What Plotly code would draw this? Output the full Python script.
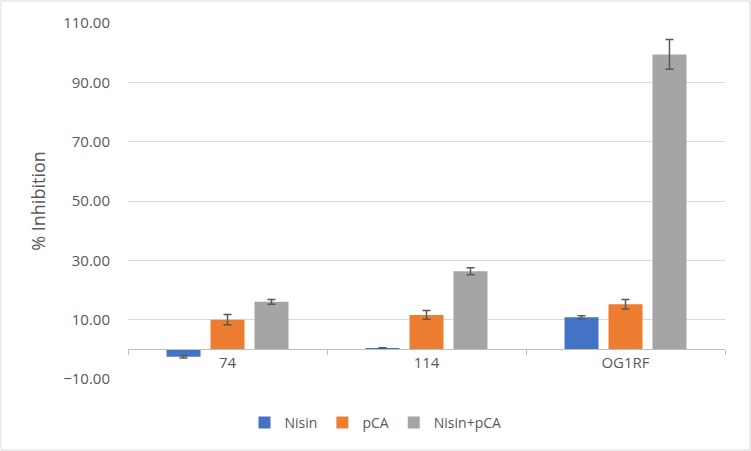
import plotly.graph_objects as go

categories = ["74", "114", "OG1RF"]
series_names = ["Nisin", "pCA", "Nisin+pCA"]
nisin = [-2.5, 0.3, 10.8]
nisin_err = [0.4, 0.2, 0.5]
pca = [10.0, 11.6, 15.2]
pca_err = [1.7, 1.5, 1.6]
combo = [16.0, 26.3, 99.4]
combo_err = [0.8, 1.2, 5.0]
colors = ["#4472C4", "#ED7D31", "#A5A5A5"]
y_min, y_max = -10, 110

FONT = "Open Sans"
GREY = "#595959"

fig = go.Figure()
for name, vals, errs, col in zip(series_names, [nisin, pca, combo], [nisin_err, pca_err, combo_err], colors):
    fig.add_trace(go.Bar(
        x=categories, y=vals, name=name, marker=dict(color=col, line=dict(width=0)),
        error_y=dict(type="data", array=errs, visible=True, color=GREY, thickness=1.5, width=4),
    ))

W, H = 751, 451
ml, mr, mt, mb = 128, 26, 23, 72
fig.update_layout(
    width=W, height=H,
    margin=dict(l=ml, r=mr, t=mt, b=mb, autoexpand=False),
    paper_bgcolor="white", plot_bgcolor="white",
    barmode="group", bargap=0.337, bargroupgap=0.227,
    font=dict(family=FONT, color=GREY, size=14),
    legend=dict(orientation="h", xref="container", yref="container", x=0.5, xanchor="center",
                y=1 - 423 / H, yanchor="middle", font=dict(size=14, color=GREY),
                itemwidth=30, traceorder="normal"),
    xaxis=dict(anchor="free", position=(0 - y_min) / (y_max - y_min), showline=True,
               linecolor="#BFBFBF", linewidth=1, ticks="outside", tickson="boundaries",
               ticklen=5, tickcolor="#BFBFBF", showgrid=False, automargin=False,
               tickfont=dict(size=15, color=GREY, family=FONT)),
    xaxis2=dict(overlaying="x", anchor="y", side="bottom", showline=True,
                linecolor="#D9D9D9", linewidth=1, showticklabels=False, ticks="",
                showgrid=False, zeroline=False, automargin=False),
    yaxis=dict(range=[y_min, y_max], tick0=-10, dtick=20, tickformat=".2f",
               showgrid=True, gridcolor="#D9D9D9", gridwidth=1, zeroline=False,
               showline=False, ticks="", automargin=False, ticklabelstandoff=17,
               tickfont=dict(size=15, color=GREY, family=FONT),
               title=dict(text="% Inhibition", font=dict(size=18, color=GREY, family=FONT), standoff=12)),
    shapes=[
        dict(type="rect", xref="paper", yref="paper",
             x0=-(ml - 1) / (W - ml - mr), x1=1 + (mr - 1) / (W - ml - mr),
             y0=-(mb - 1) / (H - mt - mb), y1=1 + (mt - 1) / (H - mt - mb),
             line=dict(color="#D9D9D9", width=1), layer="below"),
    ],
)
fig.write_html("out.html", config={"displayModeBar": False},
               post_script="document.body.style.margin='0';document.body.style.padding='0';")
